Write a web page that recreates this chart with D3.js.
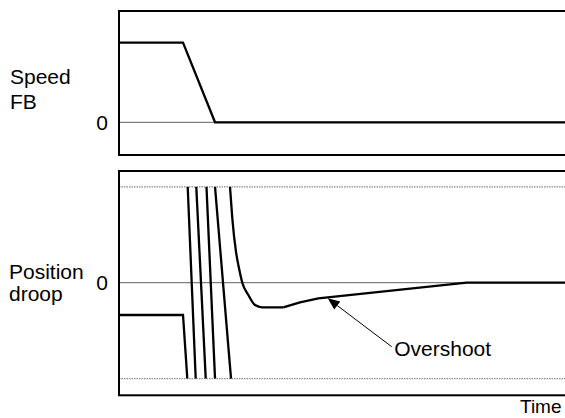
<!DOCTYPE html>
<html>
<head>
<meta charset="utf-8">
<script src="https://cdn.jsdelivr.net/npm/d3@7"></script>
<style>
  html, body { margin: 0; padding: 0; background: #fff; }
  svg { display: block; }
  text { font-family: "Liberation Sans", Arial, sans-serif; fill: #000; }
</style>
</head>
<body>
<svg id="chart" width="565" height="418"></svg>
<script>
// ---- data (time in arbitrary units 0..100) ----
const speedTime  = [0, 14.32, 21.48, 100];
const speedValue = [1, 1, 0, 0];

const droopStepTime  = [0, 14.32, 15.28];
const droopStepValue = [-0.337, -0.337, -1];

// wrap-around lines (top of range -> bottom of range)
const wrapStartTime = [15.37, 17.29, 19.57, 21.48];
const wrapEndTime   = [17.16, 19.40, 21.48, 25.06];
const wrapTop = 1, wrapBottom = -1;

// decaying part (smooth)
const decayTime  = [24.83, 25.35, 26.17, 26.85, 27.58, 28.93, 30.43, 32.0, 36.76];
const decayValue = [1.0, 0.672, 0.324, 0.150, 0, -0.128, -0.233, -0.257, -0.257];
// recovery part (straight segments)
const recoveryTime  = [36.76, 40.49, 44.59, 77.79, 100];
const recoveryValue = [-0.257, -0.205, -0.163, 0, 0];

const limitLevels = [1, -1];
const annotationText = "Overshoot";
const annotationTip  = [46.69, -0.163];
const annotationTail = [61.01, -0.668];

// ---- layout ----
const svg = d3.select("#chart");
const x = d3.scaleLinear().domain([0, 100]).range([119, 566]);
const ySpeed = d3.scaleLinear().domain([-0.411, 1.398]).range([155, 11]);
const yPos = d3.scaleLinear().domain([-1.175, 1.166]).range([395.3, 171]);

const line = (ys, curve) => d3.line().x(d => x(d[0])).y(d => ys(d[1])).curve(curve || d3.curveLinear);

// Top panel
svg.append("line").attr("x1", x(0)).attr("x2", 580)
  .attr("y1", ySpeed(0)).attr("y2", ySpeed(0))
  .attr("stroke", "#808080").attr("stroke-width", 1.2);
svg.append("path")
  .datum(speedTime.map((t, i) => [t, speedValue[i]]))
  .attr("d", line(ySpeed))
  .attr("fill", "none").attr("stroke", "#000").attr("stroke-width", 2.3)
  .attr("stroke-linejoin", "miter");
svg.append("rect").attr("x", x(0)).attr("y", ySpeed.range()[1])
  .attr("width", 600).attr("height", ySpeed.range()[0] - ySpeed.range()[1])
  .attr("fill", "none").attr("stroke", "#000").attr("stroke-width", 2);

// Bottom panel
svg.append("line").attr("x1", x(0)).attr("x2", 580)
  .attr("y1", yPos(0)).attr("y2", yPos(0))
  .attr("stroke", "#808080").attr("stroke-width", 1.2);
svg.selectAll("line.limit").data(limitLevels).enter().append("line")
  .attr("class", "limit")
  .attr("x1", x(0)).attr("x2", 580)
  .attr("y1", d => yPos(d)).attr("y2", d => yPos(d))
  .attr("stroke", "#8a8a8a").attr("stroke-width", 1.2)
  .attr("stroke-dasharray", "1.5,1");

svg.append("path")
  .datum(droopStepTime.map((t, i) => [t, droopStepValue[i]]))
  .attr("d", line(yPos))
  .attr("fill", "none").attr("stroke", "#000").attr("stroke-width", 2.3);

svg.selectAll("path.wrap").data(wrapStartTime).enter().append("path")
  .attr("class", "wrap")
  .attr("d", (d, i) => line(yPos)([[d, wrapTop], [wrapEndTime[i], wrapBottom]]))
  .attr("fill", "none").attr("stroke", "#000").attr("stroke-width", 2.3);

svg.append("path")
  .datum(decayTime.map((t, i) => [t, decayValue[i]]))
  .attr("d", line(yPos, d3.curveMonotoneX))
  .attr("fill", "none").attr("stroke", "#000").attr("stroke-width", 2.3);
svg.append("path")
  .datum(recoveryTime.map((t, i) => [t, recoveryValue[i]]))
  .attr("d", line(yPos))
  .attr("fill", "none").attr("stroke", "#000").attr("stroke-width", 2.3)
  .attr("stroke-linejoin", "round");

svg.append("rect").attr("x", x(0)).attr("y", yPos.range()[1])
  .attr("width", 600).attr("height", yPos.range()[0] - yPos.range()[1])
  .attr("fill", "none").attr("stroke", "#000").attr("stroke-width", 2);

// Annotation arrow
const tip = [x(annotationTip[0]), yPos(annotationTip[1])];
const tail = [x(annotationTail[0]), yPos(annotationTail[1])];
const ang = Math.atan2(tip[1] - tail[1], tip[0] - tail[0]);
const headLen = 12, headW = 5;
const base = [tip[0] - headLen * Math.cos(ang), tip[1] - headLen * Math.sin(ang)];
svg.append("line").attr("x1", tail[0]).attr("y1", tail[1])
  .attr("x2", base[0]).attr("y2", base[1])
  .attr("stroke", "#000").attr("stroke-width", 1);
svg.append("path")
  .attr("d", d3.line()([
    tip,
    [base[0] + headW * Math.sin(ang), base[1] - headW * Math.cos(ang)],
    [base[0] - headW * Math.sin(ang), base[1] + headW * Math.cos(ang)]
  ]) + "Z")
  .attr("fill", "#000");
svg.append("text").attr("x", tail[0] + 2.5).attr("y", tail[1] + 9)
  .attr("font-size", 21).text(annotationText);

// Labels
const fs = 21;
svg.append("text").attr("x", 10).attr("y", 84).attr("font-size", fs).text("Speed");
svg.append("text").attr("x", 10).attr("y", 109).attr("font-size", fs).text("FB");
svg.append("text").attr("x", 108).attr("y", ySpeed(0) + 7.5).attr("font-size", fs)
  .attr("text-anchor", "end").text("0");

svg.append("text").attr("x", 9).attr("y", 278.5).attr("font-size", fs).text("Position");
svg.append("text").attr("x", 9).attr("y", 300.5).attr("font-size", fs).text("droop");
svg.append("text").attr("x", 108).attr("y", yPos(0) + 7.5).attr("font-size", fs)
  .attr("text-anchor", "end").text("0");

svg.append("text").attr("x", 520).attr("y", 413).attr("font-size", 19).text("Time");
</script>
</body>
</html>
